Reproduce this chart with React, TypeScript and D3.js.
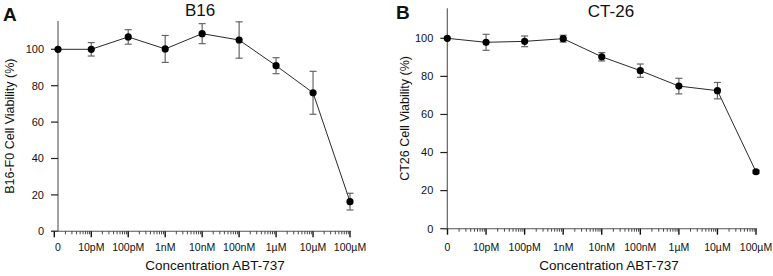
import React from "react";
import * as d3 from "d3";

const concLabels = ["0", "10pM", "100pM", "1nM", "10nM", "100nM", "1µM", "10µM", "100µM"];
const concMolar = [0, 1e-11, 1e-10, 1e-9, 1e-8, 1e-7, 1e-6, 1e-5, 1e-4];
const b16Mean = [100, 100, 106.8, 100.2, 108.6, 105.1, 91, 76.1, 16.3];
const b16Err = [0, 3.7, 4, 7.4, 5.5, 10, 4.4, 11.8, 4.6];
const ct26Mean = [100, 97.9, 98.4, 99.8, 90.3, 83, 74.9, 72.5, 29.9];
const ct26Err = [0, 4.2, 2.8, 1.8, 2.2, 3.5, 4.1, 4.3, 0.8];
const yTicks = [0, 20, 40, 60, 80, 100];

const FONT = "'Liberation Sans', Arial, Helvetica, sans-serif";

type PanelProps = {
  letter: string;
  letterX: number;
  letterY: number;
  title: string;
  titleX: number;
  titleY: number;
  yLabel: string;
  yLabelX: number;
  xLabelX: number;
  yAxisX: number;
  x0: number;
  xEnd: number;
  yZero: number;
  yHundred: number;
  yMax: number;
  means: number[];
  errs: number[];
};

function Panel(p: PanelProps) {
  const x = d3.scaleLog().domain([1e-12, 1e-4]).range([p.x0, p.xEnd]);
  const y = d3.scaleLinear().domain([0, 100]).range([p.yZero, p.yHundred]);
  const px = (i: number) => (concMolar[i] === 0 ? p.yAxisX : x(concMolar[i]));
  const tickX = (i: number) => (concMolar[i] === 0 ? x(1e-12) : x(concMolar[i]));
  const labelX = (i: number) => (concMolar[i] === 0 ? p.yAxisX : x(concMolar[i]));

  const minor: number[] = [];
  for (let e = -12; e < -4; e++) {
    for (let m = 2; m <= 9; m++) minor.push(m * Math.pow(10, e));
  }
  const line = d3
    .line<number>()
    .x((_, i) => px(i))
    .y((d) => y(d));
  const axisColor = "#555";
  const yTop = y(p.yMax);
  const xStart = Math.min(p.x0, p.yAxisX) - 3;
  const midY = (yTop + p.yZero) / 2;

  return (
    <g fontFamily={FONT}>
      <text x={p.letterX} y={p.letterY} fontSize={19} fontWeight="bold" fill="#111">
        {p.letter}
      </text>
      <text x={p.titleX} y={p.titleY} fontSize={17} textAnchor="middle" fill="#111">
        {p.title}
      </text>
      {/* y axis */}
      <line x1={p.yAxisX} x2={p.yAxisX} y1={yTop} y2={p.yZero} stroke={axisColor} strokeWidth={1.1} />
      {yTicks.map((t) => (
        <g key={t}>
          <line x1={p.yAxisX - 7} x2={p.yAxisX} y1={y(t)} y2={y(t)} stroke="#222" strokeWidth={1.2} />
          <text x={p.yAxisX - 14} y={y(t) + 3.8} fontSize={11} textAnchor="end" fill="#111">
            {t}
          </text>
        </g>
      ))}
      <text
        transform={`translate(${p.yLabelX},${midY}) rotate(-90)`}
        fontSize={12.5}
        textAnchor="middle"
        fill="#111"
      >
        {p.yLabel}
      </text>
      {/* x axis */}
      <line x1={xStart} x2={p.xEnd + 1} y1={p.yZero} y2={p.yZero} stroke={axisColor} strokeWidth={1.1} />
      {minor.map((m, i) => (
        <line key={i} x1={x(m)} x2={x(m)} y1={p.yZero} y2={p.yZero + 3} stroke="#333" strokeWidth={0.9} />
      ))}
      {concLabels.map((lab, i) => (
        <g key={lab}>
          <line x1={tickX(i)} x2={tickX(i)} y1={p.yZero} y2={p.yZero + 6} stroke="#111" strokeWidth={1.4} />
          <text x={labelX(i)} y={250.5} fontSize={10.5} textAnchor="middle" fill="#111">
            {lab}
          </text>
        </g>
      ))}
      <text x={p.xLabelX} y={270} fontSize={13.5} textAnchor="middle" fill="#111">
        Concentration ABT-737
      </text>
      {/* data line */}
      <path d={line(p.means) || ""} fill="none" stroke="#111" strokeWidth={0.9} />
      {/* error bars */}
      {p.means.map((m, i) =>
        p.errs[i] > 0 ? (
          <g key={"e" + i} stroke="#666" strokeWidth={1.2}>
            <line x1={px(i)} x2={px(i)} y1={y(m + p.errs[i])} y2={y(m - p.errs[i])} />
            <line x1={px(i) - 3.5} x2={px(i) + 3.5} y1={y(m + p.errs[i])} y2={y(m + p.errs[i])} />
            <line x1={px(i) - 3.5} x2={px(i) + 3.5} y1={y(m - p.errs[i])} y2={y(m - p.errs[i])} />
          </g>
        ) : null
      )}
      {p.means.map((m, i) => (
        <circle key={"c" + i} cx={px(i)} cy={y(m)} r={3.6} fill="#000" />
      ))}
    </g>
  );
}

export default function App() {
  return (
    <svg
      width={773}
      height={276}
      style={{ position: "absolute", left: 0, top: 0, background: "#fff" }}
    >
      <rect width={773} height={276} fill="#fff" />
      <Panel
        letter="A"
        letterX={3}
        letterY={20.5}
        title="B16"
        titleX={200}
        titleY={16}
        yLabel="B16-F0 Cell Viability (%)"
        yLabelX={14}
        xLabelX={215}
        yAxisX={58}
        x0={54.3}
        xEnd={350}
        yZero={231.3}
        yHundred={49.3}
        yMax={115.5}
        means={b16Mean}
        errs={b16Err}
      />
      <Panel
        letter="B"
        letterX={396}
        letterY={18.5}
        title="CT-26"
        titleX={611}
        titleY={16.7}
        yLabel="CT26 Cell Viability (%)"
        yLabelX={409}
        xLabelX={609}
        yAxisX={447.3}
        x0={447.5}
        xEnd={756}
        yZero={228.7}
        yHundred={38.3}
        yMax={115.8}
        means={ct26Mean}
        errs={ct26Err}
      />
    </svg>
  );
}
